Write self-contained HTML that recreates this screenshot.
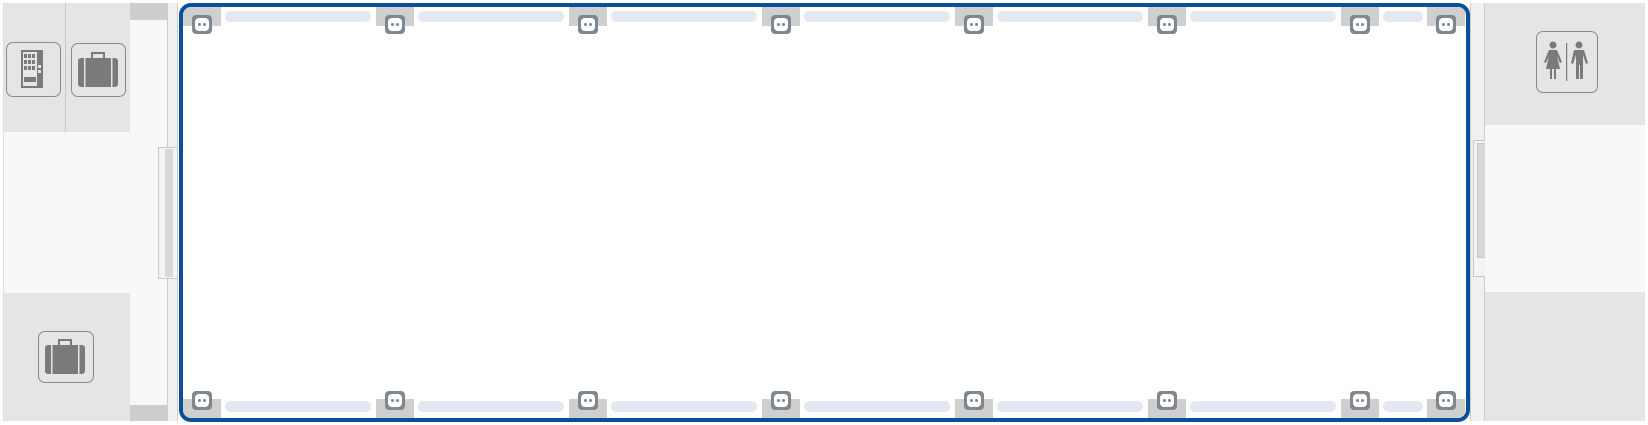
<!DOCTYPE html>
<html><head><style>
*{margin:0;padding:0;box-sizing:border-box}
body{width:1648px;height:425px;background:#fff;position:relative;overflow:hidden;font-family:"Liberation Sans",sans-serif}
.a{position:absolute}
.ic{position:absolute;width:20px;height:19px;background:#7f8790;border-radius:4px}
.ic::after{content:"";position:absolute;left:3px;top:3px;width:14px;height:13px;background:#fff;border-radius:4px}
.ic i,.ic b{position:absolute;z-index:2;width:3px;height:3px;background:#7f8790;border-radius:50%;top:8px}
.ic i{left:6px}.ic b{left:11px}
.tab{position:absolute;width:38px;height:19px;background:#cfcfcf}
.bar{position:absolute;height:11px;background:#e4e9f1;border-radius:5px}
.box{position:absolute;border:1.5px solid #8a8a8a;border-radius:7px;background:#e5e5e5}
</style></head><body>
<!-- left panel -->
<div class="a" style="left:3px;top:3px;width:127px;height:129px;background:#e5e5e5"></div>
<div class="a" style="left:65px;top:3px;width:1px;height:129px;background:#c8c8c8"></div>
<div class="a" style="left:3px;top:132px;width:127px;height:161px;background:#f8f8f8"></div>
<div class="a" style="left:3px;top:293px;width:127px;height:128px;background:#e5e5e5"></div>
<div class="a" style="left:3px;top:3px;width:1px;height:418px;background:#ddd"></div>
<div class="a" style="left:130px;top:3px;width:37px;height:418px;background:#f8f8f8"></div>
<div class="a" style="left:130px;top:3px;width:37px;height:17px;background:#cdcdcd"></div>
<div class="a" style="left:130px;top:405px;width:37px;height:16px;background:#cdcdcd"></div>
<div class="a" style="left:167px;top:3px;width:11px;height:418px;background:#f0f0f0;border-left:1px solid #ccc;border-right:1px solid #ccc"></div>
<div class="a" style="left:158px;top:147px;width:20px;height:132px;background:#f4f4f4;border:1px solid #c8c8c8"></div>
<div class="a" style="left:165px;top:149px;width:8px;height:128px;background:#d8d8d8"></div>
<!-- vending -->
<div class="box" style="left:6px;top:42px;width:55px;height:55px">
<svg width="52" height="52" style="position:absolute;left:0;top:0"><rect x="14" y="7" width="22" height="38" fill="#7a7a7a"/><rect x="16" y="9" width="14" height="34" fill="#e5e5e5"/>
<g fill="#7a7a7a"><rect x="17" y="11" width="3" height="4"/><rect x="21" y="11" width="3" height="4"/><rect x="25" y="11" width="3" height="4"/><rect x="17" y="17" width="3" height="4"/><rect x="21" y="17" width="3" height="4"/><rect x="25" y="17" width="3" height="4"/><rect x="17" y="23" width="3" height="4"/><rect x="21" y="23" width="3" height="4"/><rect x="25" y="23" width="3" height="4"/><rect x="17" y="34" width="12" height="5"/></g><rect x="31" y="22" width="3" height="3" fill="#e5e5e5"/><rect x="31" y="27" width="3" height="3" fill="#e5e5e5"/></svg></div>
<!-- luggage -->
<div class="box" style="left:71px;top:43px;width:55px;height:54px">
<svg width="52" height="52" style="position:absolute;left:0;top:0"><rect x="20" y="9" width="12" height="6" fill="none" stroke="#7a7a7a" stroke-width="2"/><rect x="6" y="14" width="40" height="29" rx="3" fill="#7a7a7a"/><rect x="12" y="14" width="1.5" height="29" fill="#e5e5e5"/><rect x="39" y="14" width="1.5" height="29" fill="#e5e5e5"/></svg></div>
<div class="box" style="left:38px;top:331px;width:56px;height:52px">
<svg width="52" height="50" style="position:absolute;left:0;top:0"><rect x="20" y="8" width="12" height="6" fill="none" stroke="#7a7a7a" stroke-width="2"/><rect x="6" y="13" width="40" height="29" rx="3" fill="#7a7a7a"/><rect x="12" y="13" width="1.5" height="29" fill="#e5e5e5"/><rect x="39" y="13" width="1.5" height="29" fill="#e5e5e5"/></svg></div>
<!-- right panel -->
<div class="a" style="left:1470px;top:3px;width:15px;height:418px;background:#f0f0f0;border-left:1px solid #ccc;border-right:1px solid #ccc"></div>
<div class="a" style="left:1473px;top:140px;width:22px;height:137px;background:#f4f4f4;border:1px solid #c8c8c8"></div>
<div class="a" style="left:1477px;top:143px;width:10px;height:115px;background:#d8d8d8;border:1px solid #c8c8c8"></div>
<div class="a" style="left:1485px;top:3px;width:160px;height:122px;background:#e5e5e5"></div>
<div class="a" style="left:1485px;top:125px;width:160px;height:167px;background:#f8f8f8"></div>
<div class="a" style="left:1485px;top:292px;width:160px;height:129px;background:#e5e5e5"></div>
<div class="box" style="left:1536px;top:31px;width:62px;height:62px">
<svg width="60" height="60" style="position:absolute;left:0;top:0"><g fill="#7a7a7a"><circle cx="16" cy="13" r="3.5"/><path d="M12 18h8l5 12-2 1-3-7 3 13h-4v10h-2v-10h-2v10h-2v-10h-4l3-13-3 7-2-1z"/><rect x="29" y="11" width="1.2" height="38"/><circle cx="42" cy="13" r="3.5"/><path d="M37 18h10l4 13-2 1-3-9v24h-3v-14h-1v14h-3v-24l-3 9-2-1z"/></g></svg></div>
<!-- main car -->
<div class="a" style="left:179px;top:3px;width:1291px;height:419px;border:4px solid #0a4f97;border-radius:12px;background:#fff;overflow:hidden" id="car">
</div>
<div class="a" style="left:183px;top:7px;width:1283px;height:411px;overflow:hidden;border-radius:8px">
<div class="tab" style="left:0;top:0"></div><div class="ic" style="left:9px;top:8px"><i></i><b></b></div>
<div class="tab" style="left:193px;top:0"></div><div class="ic" style="left:202px;top:8px"><i></i><b></b></div>
<div class="tab" style="left:386px;top:0"></div><div class="ic" style="left:395px;top:8px"><i></i><b></b></div>
<div class="tab" style="left:579px;top:0"></div><div class="ic" style="left:588px;top:8px"><i></i><b></b></div>
<div class="tab" style="left:772px;top:0"></div><div class="ic" style="left:781px;top:8px"><i></i><b></b></div>
<div class="tab" style="left:965px;top:0"></div><div class="ic" style="left:974px;top:8px"><i></i><b></b></div>
<div class="tab" style="left:1158px;top:0"></div><div class="ic" style="left:1167px;top:8px"><i></i><b></b></div>
<div class="tab" style="left:1244px;top:0"></div><div class="ic" style="left:1253px;top:8px"><i></i><b></b></div>
<div class="bar" style="left:42px;top:4px;width:146px"></div>
<div class="bar" style="left:235px;top:4px;width:146px"></div>
<div class="bar" style="left:428px;top:4px;width:146px"></div>
<div class="bar" style="left:621px;top:4px;width:146px"></div>
<div class="bar" style="left:814px;top:4px;width:146px"></div>
<div class="bar" style="left:1007px;top:4px;width:146px"></div>
<div class="bar" style="left:1200px;top:4px;width:40px"></div>

<div class="tab" style="left:0;top:392px"></div><div class="ic" style="left:9px;top:384px"><i></i><b></b></div>
<div class="tab" style="left:193px;top:392px"></div><div class="ic" style="left:202px;top:384px"><i></i><b></b></div>
<div class="tab" style="left:386px;top:392px"></div><div class="ic" style="left:395px;top:384px"><i></i><b></b></div>
<div class="tab" style="left:579px;top:392px"></div><div class="ic" style="left:588px;top:384px"><i></i><b></b></div>
<div class="tab" style="left:772px;top:392px"></div><div class="ic" style="left:781px;top:384px"><i></i><b></b></div>
<div class="tab" style="left:965px;top:392px"></div><div class="ic" style="left:974px;top:384px"><i></i><b></b></div>
<div class="tab" style="left:1158px;top:392px"></div><div class="ic" style="left:1167px;top:384px"><i></i><b></b></div>
<div class="tab" style="left:1244px;top:392px"></div><div class="ic" style="left:1253px;top:384px"><i></i><b></b></div>
<div class="bar" style="left:42px;top:394px;width:146px"></div>
<div class="bar" style="left:235px;top:394px;width:146px"></div>
<div class="bar" style="left:428px;top:394px;width:146px"></div>
<div class="bar" style="left:621px;top:394px;width:146px"></div>
<div class="bar" style="left:814px;top:394px;width:146px"></div>
<div class="bar" style="left:1007px;top:394px;width:146px"></div>
<div class="bar" style="left:1200px;top:394px;width:40px"></div>
</div>
</body></html>
